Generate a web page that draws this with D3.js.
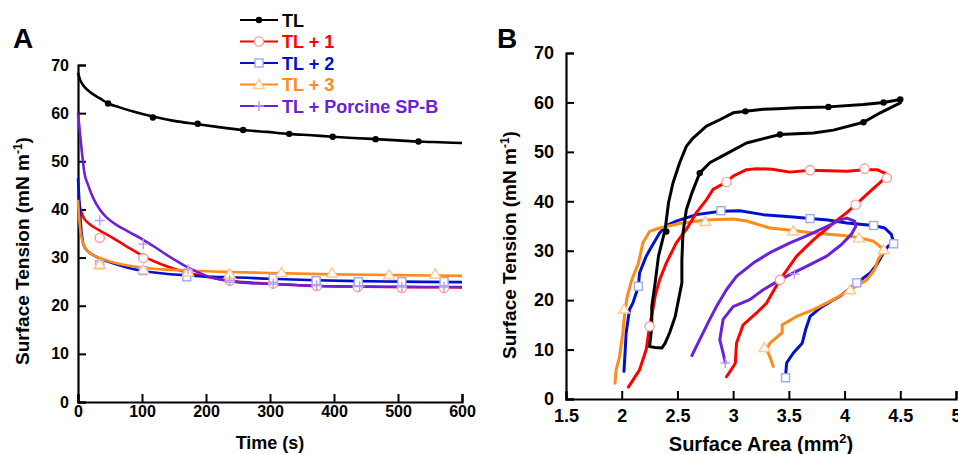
<!DOCTYPE html>
<html>
<head>
<meta charset="utf-8">
<script src="https://cdn.jsdelivr.net/npm/d3@7"></script>
<style>
  body { margin: 0; background: #fff; }
  text { font-family: Arial, "Liberation Sans", sans-serif; font-weight: bold; }
</style>
</head>
<body>
<div id="chart"></div>
<script>
// ---- Panel A : surface tension vs time ----
var tlTime    = [0, 3, 8, 15, 25, 35, 47, 65, 85, 117, 150, 187, 220, 258, 295, 330, 365, 398, 430, 465, 500, 532, 565, 600];
var tlTension = [68.4, 67, 65.8, 64.8, 63.8, 63, 62.0, 61.2, 60.4, 59.3, 58.4, 57.7, 57.1, 56.5, 56.1, 55.7, 55.4, 55.1, 54.85, 54.6, 54.35, 54.1, 53.95, 53.8];
var tlMarkTime = [47, 117, 187, 258, 330, 398, 465, 532];
var tlMarkTension = [62.0, 59.1, 57.8, 56.5, 55.7, 55.1, 54.6, 54.1];

var tl1Time    = [0, 3, 8, 15, 25, 34, 50, 75, 102, 130, 150, 172, 200, 237, 270, 305, 340, 373, 420, 480, 540, 600];
var tl1Tension = [43, 40.5, 38.5, 37.3, 36.3, 35.6, 34.4, 32.4, 30.3, 28.6, 27.7, 26.9, 26.0, 25.2, 24.8, 24.5, 24.3, 24.1, 24.0, 23.9, 23.85, 23.8];
var tl1MarkTime = [34, 102, 172, 237, 305, 373, 437, 506, 572];
var tl1MarkTension = [34.1, 29.9, 26.8, 25.2, 24.6, 24.1, 23.9, 23.7, 23.7];

var tl2Time    = [0, 2, 5, 8, 12, 18, 25, 34, 50, 75, 102, 140, 172, 210, 242, 300, 372, 438, 506, 600];
var tl2Tension = [46.5, 42, 36, 33, 31.8, 31, 30.4, 29.8, 29, 28, 27.2, 26.6, 26.3, 26.0, 25.9, 25.6, 25.3, 25.1, 25.0, 24.9];
var tl2MarkTime = [34, 102, 170, 237, 305, 372, 438, 506, 572];
var tl2MarkTension = [28.5, 27.3, 26.0, 25.7, 25.7, 25.2, 25.0, 25.0, 25.0];

var tl3Time    = [0, 2, 5, 8, 12, 18, 25, 34, 50, 75, 102, 140, 172, 210, 240, 300, 400, 500, 600];
var tl3Tension = [42, 38, 34.5, 33, 31.8, 31, 30.4, 29.9, 29.2, 28.4, 27.9, 27.5, 27.3, 27.1, 27.0, 26.8, 26.5, 26.35, 26.2];
var tl3MarkTime = [34, 102, 172, 237, 318, 397, 486, 558];
var tl3MarkTension = [28.6, 27.5, 27.0, 26.6, 26.9, 26.8, 26.4, 26.6];

var spbTime    = [0, 3, 6, 10, 16, 23, 34, 45, 60, 80, 102, 120, 138, 155, 172, 190, 201, 220, 242, 270, 305, 340, 373, 420, 480, 540, 600];
var spbTension = [60, 56, 52, 47.6, 45, 42.6, 40, 38.3, 36.8, 35.3, 33.7, 32.2, 30.6, 29.2, 27.9, 26.8, 26.2, 25.5, 25.0, 24.7, 24.5, 24.3, 24.1, 24.0, 23.95, 23.9, 23.9];
var spbMarkTime = [34, 102, 172, 237, 305, 373, 440, 506, 572];
var spbMarkTension = [37.7, 32.8, 27.6, 25.3, 24.5, 24.2, 24.0, 23.9, 23.9];

var timeTicks = [0, 100, 200, 300, 400, 500, 600];
var tensionTicks = [0, 10, 20, 30, 40, 50, 60, 70];
var areaTicks = [1.5, 2, 2.5, 3, 3.5, 4, 4.5, 5];

// ---- Panel B : surface tension vs surface area (one loop per film) ----
var tlLoop = [[4.50,60.6],[4.35,60.0],[4.17,59.6],[3.855,59.1],[3.57,58.9],[3.40,58.7],[3.27,58.6],[3.11,58.2],[3.00,57.9],[2.88,56.5],[2.76,55.2],[2.64,52.8],[2.58,51.1],[2.52,47.8],[2.46,43.7],[2.42,39.7],[2.39,34.3],[2.33,28.9],[2.30,23.5],[2.27,18.7],[2.27,14.7],[2.25,10.6],[2.30,10.4],[2.36,10.3],[2.39,11.3],[2.43,13.4],[2.48,16.7],[2.51,20.1],[2.54,23.5],[2.54,28.2],[2.55,33.6],[2.58,38.3],[2.63,41.7],[2.70,45.7],[2.79,47.8],[2.93,49.5],[3.12,51.8],[3.42,53.5],[3.72,53.8],[3.90,54.4],[4.17,56.0],[4.32,57.9],[4.50,59.9]];
var tlLoopMarks = [[4.50,60.6],[4.35,60.0],[3.855,59.1],[3.11,58.2],[2.40,33.9],[2.70,45.7],[3.42,53.5],[4.17,56.0]];

var tl1Loop = [[2.94,4.5],[3.00,6.5],[3.02,7.3],[3.03,11.3],[3.09,15.0],[3.21,17.4],[3.30,19.4],[3.36,21.8],[3.42,24.1],[3.57,28.9],[3.72,32.2],[3.90,35.6],[4.02,37.7],[4.10,39.3],[4.20,41.4],[4.30,43.4],[4.36,44.7],[4.38,45.4],[4.36,45.7],[4.29,46.4],[4.18,46.4],[4.02,46.1],[3.85,46.2],[3.69,46.3],[3.51,45.9],[3.35,46.5],[3.21,46.6],[3.12,46.4],[3.00,45.1],[2.94,43.9],[2.82,42.4],[2.76,40.3],[2.67,37.7],[2.58,34.3],[2.49,31.6],[2.40,27.5],[2.34,24.1],[2.30,20.8],[2.28,18.1],[2.25,14.7],[2.22,10.0],[2.16,5.9],[2.06,2.4]];
var tl1LoopMarks = [[4.18,46.6],[3.69,46.3],[2.94,43.9],[4.38,44.7],[4.10,39.3],[3.42,24.1],[2.25,14.7]];

var tl2Loop = [[3.47,4.5],[3.48,7.3],[3.54,9.3],[3.62,11.3],[3.65,14.0],[3.69,16.7],[3.78,18.4],[3.88,19.8],[3.96,20.8],[4.11,23.5],[4.23,25.5],[4.29,27.2],[4.35,29.6],[4.39,30.9],[4.44,31.6],[4.42,33.3],[4.36,34.6],[4.26,35.1],[4.02,35.6],[3.85,36.2],[3.69,36.5],[3.54,36.8],[3.27,37.3],[3.06,38.1],[2.89,38.0],[2.67,37.3],[2.49,36.0],[2.40,35.1],[2.34,33.6],[2.27,30.9],[2.22,28.9],[2.16,25.5],[2.15,22.8],[2.10,19.4],[2.07,18.1],[2.04,13.4],[2.03,9.3],[2.02,5.6]];
var tl2LoopMarks = [[4.44,31.4],[4.26,35.1],[3.69,36.5],[2.89,38.1],[2.15,22.8],[4.11,23.5],[3.47,4.3]];

var tl3Loop = [[3.36,6.6],[3.33,8.5],[3.30,10.0],[3.33,11.3],[3.44,13.4],[3.44,15.0],[3.57,16.7],[3.72,18.1],[3.90,20.1],[4.05,22.1],[4.20,24.1],[4.27,26.2],[4.30,28.2],[4.33,29.2],[4.35,30.2],[4.30,31.2],[4.26,31.9],[4.14,32.6],[3.99,33.1],[3.72,33.6],[3.54,34.1],[3.33,34.6],[3.12,36.0],[3.00,36.4],[2.75,36.2],[2.52,35.5],[2.34,34.6],[2.25,33.9],[2.19,31.6],[2.15,27.5],[2.09,24.1],[2.05,20.8],[2.03,18.1],[2.01,13.4],[1.98,8.6],[1.95,5.9],[1.94,3.2]];
var tl3LoopMarks = [[4.35,30.2],[4.13,32.6],[3.54,34.0],[2.75,35.9],[2.02,18.2],[4.05,22.1],[3.28,10.4]];

var spbLoop = [[2.93,7.3],[2.91,9.3],[2.88,12.0],[2.91,16.1],[3.00,18.7],[3.15,20.1],[3.27,22.1],[3.42,24.1],[3.54,25.5],[3.69,27.2],[3.84,28.9],[3.97,31.2],[4.06,33.3],[4.10,34.9],[4.09,36.0],[4.02,36.6],[3.96,36.2],[3.84,34.9],[3.69,33.3],[3.51,31.6],[3.33,29.6],[3.18,27.5],[3.03,24.8],[2.94,22.1],[2.85,18.7],[2.79,16.1],[2.70,12.0],[2.63,8.8]];
var spbLoopMarks = [[2.93,7.3],[3.55,25.3]];

var legendNames = ["TL", "TL + 1", "TL + 2", "TL + 3", "TL + Porcine SP-B"];
var lineColors  = ["#000000", "#ff0000", "#0010cc", "#ff8c1a", "#6a22d8"];
var markColors  = ["#000000", "#f5a0a0", "#a0a8ee", "#ffc890", "#b89af0"];
var markTypes   = ["dot", "circle", "square", "triangle", "plus"];

var svg = d3.select("#chart")
  .append("svg")
  .attr("width", 958)
  .attr("height", 454);

// scales
var xA = d3.scaleLinear().domain([0, 600]).range([78, 462]);
var yA = d3.scaleLinear().domain([0, 70]).range([402, 65]);
var xB = d3.scaleLinear().domain([1.5, 5]).range([566, 956]);
var yB = d3.scaleLinear().domain([0, 70]).range([399, 53]);

// draw one marker
function marker(g, type, x, y, color) {
  if (type == "dot") {
    g.append("circle").attr("cx", x).attr("cy", y).attr("r", 3.2).attr("fill", color);
  } else if (type == "circle") {
    g.append("circle").attr("cx", x).attr("cy", y).attr("r", 4.6)
      .attr("fill", "#fff").attr("stroke", color).attr("stroke-width", 1.4);
  } else if (type == "square") {
    g.append("rect").attr("x", x - 4).attr("y", y - 4).attr("width", 8).attr("height", 8)
      .attr("fill", "#fff").attr("stroke", color).attr("stroke-width", 1.4);
  } else if (type == "triangle") {
    g.append("path").attr("d", `M${x},${y - 5}L${x + 5.5},${y + 4}L${x - 5.5},${y + 4}Z`)
      .attr("fill", "#fff").attr("stroke", color).attr("stroke-width", 1.4);
  } else {
    g.append("path").attr("d", `M${x - 5},${y}H${x + 5}M${x},${y - 5}V${y + 5}`)
      .attr("stroke", color).attr("stroke-width", 1.4);
  }
}

// axes with inward ticks and minor ticks
function drawAxes(x, y, xTicks, xMinor, yMinor, xFmt, tickFont, padX, padY) {
  var x0 = x.range()[0], y0 = y.range()[0];
  var gx = svg.append("g").attr("transform", `translate(0,${y0})`);
  gx.call(d3.axisBottom(x).tickValues(xMinor).tickSize(-4).tickFormat(""));
  gx.call(d3.axisBottom(x).tickValues(xTicks).tickSize(-8).tickPadding(padX).tickFormat(xFmt));
  var gy = svg.append("g").attr("transform", `translate(${x0},0)`);
  gy.call(d3.axisLeft(y).tickValues(yMinor).tickSize(-4).tickFormat(""));
  gy.call(d3.axisLeft(y).tickValues(tensionTicks).tickSize(-8).tickPadding(padY));
  svg.selectAll(".domain").attr("stroke-width", 2.2);
  [gx, gy].forEach(function(g) {
    g.selectAll("line").attr("stroke-width", 2);
    g.selectAll("text").attr("font-size", tickFont).attr("fill", "#000")
      .style("font-family", "Arial, 'Liberation Sans', sans-serif").style("font-weight", "bold");
  });
}

drawAxes(xA, yA, timeTicks, d3.range(0, 601, 20), d3.range(0, 71, 2), d3.format("d"), 16, 4, 9);
drawAxes(xB, yB, areaTicks, d3.range(15, 51, 1).map(d => d / 10), d3.range(0, 71, 2), d => d, 18, 10, 12);

// Panel A curves
var lineA = d3.line().x(d => xA(d[0])).y(d => yA(d[1])).curve(d3.curveMonotoneX);
var seriesA = [
  [tlTime, tlTension, tlMarkTime, tlMarkTension],
  [tl1Time, tl1Tension, tl1MarkTime, tl1MarkTension],
  [tl2Time, tl2Tension, tl2MarkTime, tl2MarkTension],
  [tl3Time, tl3Tension, tl3MarkTime, tl3MarkTension],
  [spbTime, spbTension, spbMarkTime, spbMarkTension]
];
var gA = svg.append("g");
seriesA.forEach(function(s, i) {
  gA.append("path")
    .attr("d", lineA(d3.zip(s[0], s[1])))
    .attr("fill", "none")
    .attr("stroke", lineColors[i])
    .attr("stroke-width", 2.6)
    .attr("stroke-linejoin", "round");
});
seriesA.forEach(function(s, i) {
  d3.zip(s[2], s[3]).forEach(function(p) {
    marker(gA, markTypes[i], xA(p[0]), yA(p[1]), markColors[i]);
  });
});

// Panel B loops
var lineB = d3.line().x(d => xB(d[0])).y(d => yB(d[1]));
var loopsB = [tl2Loop, tl3Loop, tl1Loop, tlLoop, spbLoop];
var marksB = [tl2LoopMarks, tl3LoopMarks, tl1LoopMarks, tlLoopMarks, spbLoopMarks];
var orderB = [2, 3, 1, 0, 4];
var gB = svg.append("g");
loopsB.forEach(function(loop, k) {
  gB.append("path")
    .attr("d", lineB(loop))
    .attr("fill", "none")
    .attr("stroke", lineColors[orderB[k]])
    .attr("stroke-width", 3)
    .attr("stroke-linejoin", "round")
    .attr("stroke-linecap", "round");
});
marksB.forEach(function(ms, k) {
  ms.forEach(function(p) {
    marker(gB, markTypes[orderB[k]], xB(p[0]), yB(p[1]), markColors[orderB[k]]);
  });
});

// legend
var legend = svg.append("g");
legendNames.forEach(function(name, i) {
  var ly = 20 + i * 21.5;
  legend.append("line")
    .attr("x1", 240).attr("x2", 278).attr("y1", ly).attr("y2", ly)
    .attr("stroke", lineColors[i]).attr("stroke-width", 2.2);
  marker(legend, markTypes[i], 259, ly, markColors[i]);
  legend.append("text")
    .attr("x", 282).attr("y", ly + 6.5)
    .attr("font-size", 18)
    .attr("fill", lineColors[i])
    .text(name);
});

// panel letters
svg.append("text").attr("x", 13).attr("y", 48).attr("font-size", 28).text("A");
svg.append("text").attr("x", 497).attr("y", 48).attr("font-size", 28).text("B");

// axis titles
svg.append("text")
  .attr("x", 270).attr("y", 449)
  .attr("text-anchor", "middle")
  .attr("font-size", 18)
  .text("Time (s)");

var xtB = svg.append("text")
  .attr("x", 761).attr("y", 451)
  .attr("text-anchor", "middle")
  .attr("font-size", 20);
xtB.append("tspan").text("Surface Area (mm");
xtB.append("tspan").attr("dy", -8).attr("font-size", 13).text("2");
xtB.append("tspan").attr("dy", 8).text(")");

function yTitle(cx, cy) {
  var t = svg.append("text")
    .attr("transform", `translate(${cx},${cy}) rotate(-90)`)
    .attr("text-anchor", "middle")
    .attr("font-size", 19);
  t.append("tspan").text("Surface Tension (mN m");
  t.append("tspan").attr("dy", -7).attr("font-size", 12).text("-1");
  t.append("tspan").attr("dy", 7).text(")");
}
yTitle(29, 251);
yTitle(516, 245);
</script>
</body>
</html>
